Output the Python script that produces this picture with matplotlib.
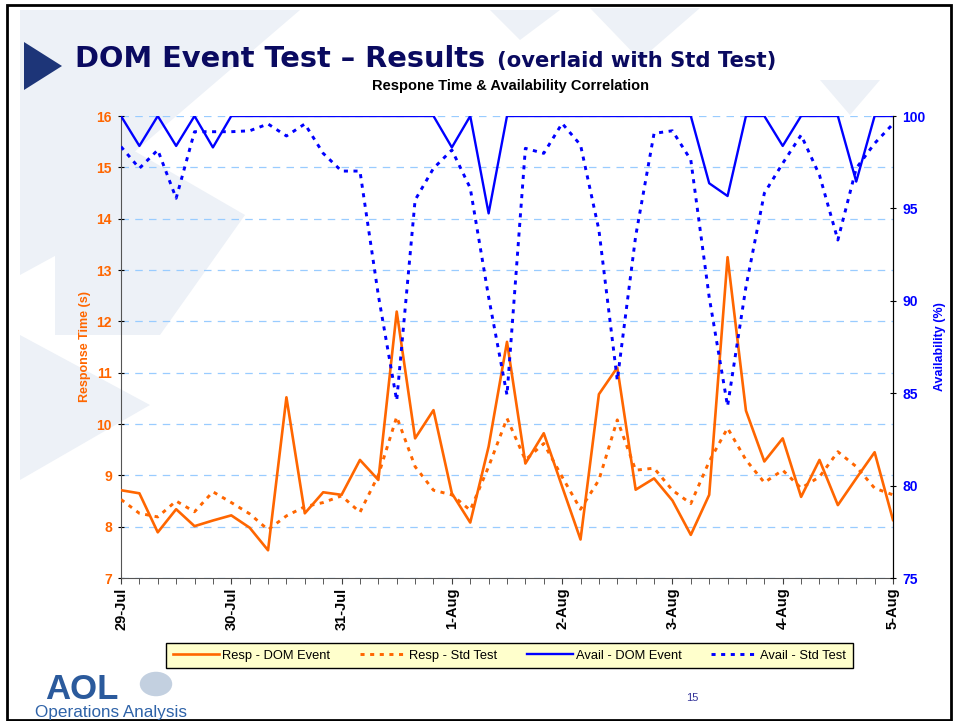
import matplotlib
matplotlib.use('Agg')
import matplotlib.pyplot as plt
import matplotlib.dates as mdates
from matplotlib.patches import Polygon, Rectangle, Circle
from matplotlib.ticker import FuncFormatter, MultipleLocator
import pandas as pd

# 4-hourly samples, 29-Jul 00:00 .. 5-Aug 00:00
times = pd.date_range('2007-07-29', periods=43, freq='4h')

resp_dom = [8.71, 8.65, 7.89, 8.34, 8.01, 8.12, 8.22, 7.98, 7.54, 10.52,
            8.26, 8.67, 8.62, 9.30, 8.91, 12.19, 9.72, 10.27, 8.65, 8.08,
            9.56, 11.60, 9.23, 9.82, 8.78, 7.75, 10.58, 11.10, 8.72, 8.94,
            8.51, 7.84, 8.62, 13.25, 10.26, 9.27, 9.72, 8.58, 9.30, 8.42,
            8.94, 9.45, 8.13]
resp_std = [8.53, 8.26, 8.19, 8.50, 8.29, 8.68, 8.47, 8.25, 7.94, 8.21,
            8.39, 8.47, 8.60, 8.28, 9.00, 10.14, 9.17, 8.71, 8.62, 8.32,
            9.17, 10.11, 9.30, 9.62, 8.97, 8.34, 8.91, 10.08, 9.10, 9.14,
            8.71, 8.45, 9.27, 9.92, 9.30, 8.86, 9.10, 8.75, 8.97, 9.46,
            9.17, 8.75, 8.62]
avail_dom = [100, 98.38, 100, 98.38, 100, 98.3, 100, 100, 100, 100,
             100, 100, 100, 100, 100, 100, 100, 100, 98.3, 100,
             94.73, 100, 100, 100, 100, 100, 100, 100, 100, 100,
             100, 100, 96.36, 95.67, 100, 100, 98.38, 100, 100, 100,
             96.45, 100, 100]
avail_std = [98.34, 97.17, 98.16, 95.55, 99.15, 99.15, 99.15, 99.2, 99.57, 98.92,
             99.57, 97.98, 97.02, 97.02, 90.3, 84.6, 95.45, 97.17, 98.16, 96.1,
             90.2, 84.9, 98.25, 97.98, 99.6, 98.43, 93.83, 85.7, 93.5, 99.06,
             99.2, 97.62, 90.2, 84.3, 90.76, 95.82, 97.44, 98.97, 96.8, 93.29,
             97.17, 98.52, 99.57]

ORANGE = '#ff6600'
BLUE = '#0000ff'
NAVY = '#0a0a60'
DOTS = (1.4, 1.9)

W, H = 954, 721
fig = plt.figure(figsize=(W / 100, H / 100), dpi=100)
fig.patch.set_facecolor('white')


def fx(x):
    return x / W


def fy(y):
    return 1 - y / H


# faint slide decorations, kept behind everything
deco = '#edf1f7'
shapes = [
    [(20, 10), (300, 10), (20, 250)],
    [(55, 105), (245, 215), (160, 335), (55, 335)],
    [(20, 150), (130, 215), (20, 275)],
    [(20, 335), (150, 405), (20, 480)],
    [(590, 8), (700, 8), (640, 60)],
    [(490, 10), (560, 10), (520, 40)],
    [(820, 80), (880, 80), (850, 115)],
]
for pts in shapes:
    fig.patches.append(Polygon([(fx(a), fy(b)) for a, b in pts], closed=True,
                               transform=fig.transFigure, facecolor=deco,
                               edgecolor='none', zorder=-5))
fig.patches.append(Polygon([(fx(24), fy(42)), (fx(24), fy(90)), (fx(62), fy(66))],
                           closed=True, transform=fig.transFigure,
                           facecolor='#1d3578', edgecolor='none', zorder=-4))
fig.patches.append(Rectangle((fx(7), fy(720)), fx(944), fy(5) - fy(720),
                             transform=fig.transFigure, fill=False,
                             edgecolor='black', linewidth=2, zorder=-4))

# titles
fig.text(fx(75), fy(67), 'DOM Event Test \u2013 Results', fontsize=20.8,
         fontweight='bold', color=NAVY, family='DejaVu Sans', va='baseline')
fig.text(fx(497), fy(67), '(overlaid with Std Test)', fontsize=15.2,
         fontweight='bold', color=NAVY, family='DejaVu Sans', va='baseline')
fig.text(fx(511), fy(86), 'Respone Time & Availability Correlation',
         fontsize=10.5, fontweight='bold', family='Liberation Sans',
         ha='center', va='center')

ax = fig.add_axes([fx(121), fy(578), fx(893) - fx(121), fy(116) - fy(578)])
ax.patch.set_alpha(0)
ax2 = ax.twinx()

l1, = ax.plot(times, resp_dom, color=ORANGE, lw=1.9, zorder=3)
l2, = ax.plot(times, resp_std, color=ORANGE, lw=2.1, dashes=DOTS, zorder=3)
l3, = ax2.plot(times, avail_dom, color=BLUE, lw=1.7, zorder=3)
l4, = ax2.plot(times, avail_std, color=BLUE, lw=2.1, dashes=DOTS, zorder=3)

ax.set_ylim(7, 16)
ax2.set_ylim(75, 100)
ax.set_xlim(times[0], times[-1])
ax.yaxis.set_major_locator(MultipleLocator(1))
ax2.yaxis.set_major_locator(MultipleLocator(5))
ax.grid(axis='y', color='#99ccff', linestyle=(0, (6, 5)), linewidth=0.9)
ax.set_axisbelow(True)

ax.xaxis.set_major_locator(mdates.DayLocator())
ax.xaxis.set_minor_locator(mdates.HourLocator(byhour=range(0, 24, 4)))
ax.xaxis.set_major_formatter(FuncFormatter(
    lambda v, p: '%d-%s' % (mdates.num2date(v).day, mdates.num2date(v).strftime('%b'))))

ax.tick_params(axis='x', which='both', direction='out', length=4, color='#404040')
ax.tick_params(axis='x', labelsize=10.5, labelrotation=90, pad=3)
ax.tick_params(axis='y', direction='inout', length=5, labelsize=10,
               labelcolor=ORANGE, pad=4)
ax2.tick_params(axis='y', direction='inout', length=5, labelsize=10,
                labelcolor=BLUE, pad=4)
for lab in ax.get_xticklabels() + ax.get_yticklabels() + ax2.get_yticklabels():
    lab.set_fontweight('bold')
    lab.set_family('Liberation Sans')

for a in (ax, ax2):
    a.spines['top'].set_visible(False)
ax.spines['left'].set_color('#555555')
ax.spines['bottom'].set_color('#555555')
ax2.spines['left'].set_visible(False)
ax2.spines['bottom'].set_visible(False)
ax2.spines['right'].set_color('black')

ax.set_ylabel('Response Time (s)', color=ORANGE, fontsize=9, fontweight='bold',
              family='Liberation Sans', labelpad=4)
ax2.set_ylabel('Availability (%)', color=BLUE, fontsize=9, fontweight='bold',
               family='Liberation Sans', labelpad=6)

leg = fig.legend([l1, l2, l3, l4],
                 ['Resp - DOM Event', 'Resp - Std Test',
                  'Avail - DOM Event', 'Avail - Std Test'],
                 loc='center', bbox_to_anchor=(fx(509.5), fy(655.5)), ncol=4,
                 frameon=True, fancybox=False, handlelength=3.6,
                 columnspacing=2.3, handletextpad=0.2, borderpad=0.5,
                 prop={'family': 'Liberation Sans', 'size': 9.3})
leg.get_frame().set_facecolor('#ffffcc')
leg.get_frame().set_edgecolor('black')
leg.get_frame().set_linewidth(1.0)
leg.get_frame().set_alpha(1)

# footer
fig.text(fx(692), fy(698), '15', fontsize=8, color='#333399', ha='center',
         va='center', family='Liberation Sans')
fig.text(fx(45), fy(699), 'AOL', fontsize=25, fontweight='bold', color='#2b5a9c',
         family='Liberation Sans', va='baseline')
fig.patches.append(Circle((fx(156), fy(684)), 0.017, transform=fig.transFigure,
                          facecolor='#c3d0e0', edgecolor='none', zorder=-4))
fig.text(fx(35), fy(712), 'Operations Analysis', fontsize=12.3,
         color='#2f63a8', family='Liberation Sans', va='center')

fig.savefig('out.png', dpi=100)
